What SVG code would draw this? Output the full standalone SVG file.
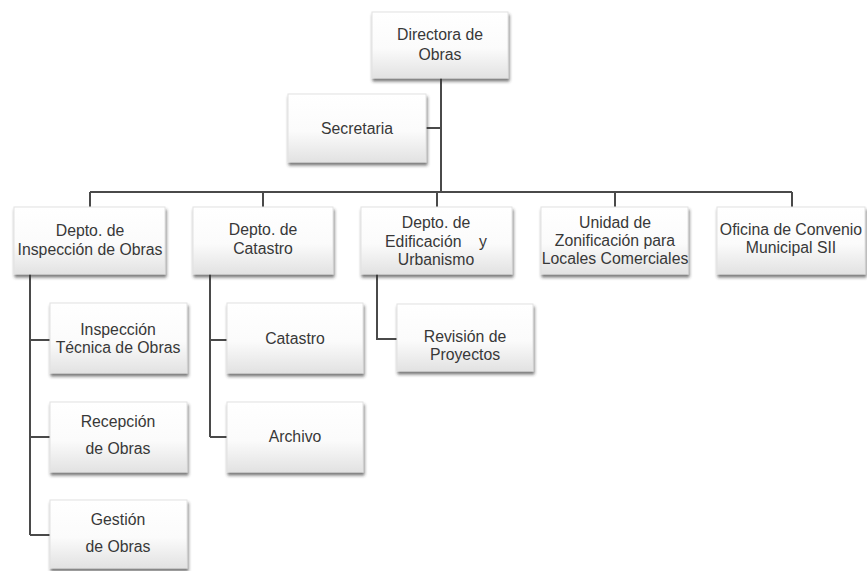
<svg xmlns="http://www.w3.org/2000/svg" width="867" height="571" viewBox="0 0 867 571">
<defs>
<linearGradient id="g" x1="0" y1="0" x2="0" y2="1">
<stop offset="0" stop-color="#ffffff"/>
<stop offset="0.55" stop-color="#fbfbfb"/>
<stop offset="1" stop-color="#e2e2e2"/>
</linearGradient>
<filter id="sh" x="-10%" y="-10%" width="125%" height="135%">
<feDropShadow dx="1" dy="3" stdDeviation="1.6" flood-color="#333" flood-opacity="0.65"/>
</filter>
</defs>
<style>
.box{fill:url(#g);stroke:#e2e2e2;stroke-width:1;filter:url(#sh)}
.t{font-family:"Liberation Sans",Arial,sans-serif;font-size:15.8px;fill:#383838;text-anchor:middle}
.c{fill:none;stroke:#4a4a4a;stroke-width:2}
</style>
<rect width="867" height="571" fill="#ffffff"/>
<g id="connectors">
<path class="c" d="M441 78V192"/>
<path class="c" d="M426 128H441"/>
<path class="c" d="M90 192H792"/>
<path class="c" d="M90 192V207M263 192V207M437 192V207M615 192V207M792 192V207"/>
<path class="c" d="M30 274V535M30 340H50M30 437H50M30 535H50"/>
<path class="c" d="M210 274V437M210 340H227M210 437H227"/>
<path class="c" d="M377 274V339H397"/>
</g>
<g id="directora">
<rect class="box" x="372" y="12" width="136" height="66"/>
<text class="t" x="440" y="40">Directora de</text>
<text class="t" x="440" y="60">Obras</text>
</g>
<g id="secretaria">
<rect class="box" x="288" y="94" width="138" height="68"/>
<text class="t" x="357" y="134">Secretaria</text>
</g>
<g id="depto-inspeccion">
<rect class="box" x="14" y="207" width="151" height="67"/>
<text class="t" x="90" y="236">Depto. de</text>
<text class="t" x="90" y="255">Inspección de Obras</text>
</g>
<g id="depto-catastro">
<rect class="box" x="193" y="207" width="140" height="67"/>
<text class="t" x="263" y="235">Depto. de</text>
<text class="t" x="263" y="254">Catastro</text>
</g>
<g id="depto-edificacion">
<rect class="box" x="361" y="207" width="151" height="67"/>
<text class="t" x="436" y="228">Depto. de</text>
<text class="t" x="436" y="246.5" xml:space="preserve">Edificación    y</text>
<text class="t" x="436" y="265">Urbanismo</text>
</g>
<g id="unidad-zonificacion">
<rect class="box" x="541" y="207" width="147" height="67"/>
<text class="t" x="615" y="228">Unidad de</text>
<text class="t" x="615" y="246">Zonificación para</text>
<text class="t" x="615" y="264">Locales Comerciales</text>
</g>
<g id="oficina-convenio">
<rect class="box" x="717" y="207" width="148" height="67"/>
<text class="t" x="791" y="235">Oficina de Convenio</text>
<text class="t" x="791" y="253">Municipal SII</text>
</g>
<g id="inspeccion-tecnica">
<rect class="box" x="50" y="303" width="137" height="70"/>
<text class="t" x="118" y="335">Inspección</text>
<text class="t" x="118" y="353">Técnica de Obras</text>
</g>
<g id="recepcion">
<rect class="box" x="50" y="402" width="137" height="70"/>
<text class="t" x="118" y="427">Recepción</text>
<text class="t" x="118" y="454">de Obras</text>
</g>
<g id="gestion">
<rect class="box" x="50" y="500" width="137" height="68"/>
<text class="t" x="118" y="525">Gestión</text>
<text class="t" x="118" y="552">de Obras</text>
</g>
<g id="catastro">
<rect class="box" x="227" y="303" width="136" height="70"/>
<text class="t" x="295" y="344">Catastro</text>
</g>
<g id="archivo">
<rect class="box" x="227" y="402" width="136" height="70"/>
<text class="t" x="295" y="442">Archivo</text>
</g>
<g id="revision">
<rect class="box" x="397" y="304" width="136" height="67"/>
<text class="t" x="465" y="342">Revisión de</text>
<text class="t" x="465" y="360">Proyectos</text>
</g>
</svg>
